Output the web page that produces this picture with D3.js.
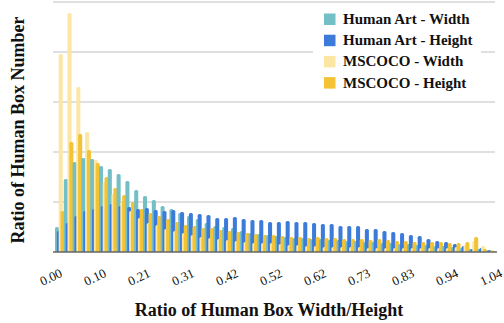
<!DOCTYPE html>
<html lang="en">
<head>
<meta charset="UTF-8">
<title>Human Box Ratio</title>
<script src="https://d3js.org/d3.v7.min.js"></script>
<style>
    body { margin: 0; background: #fff; }
    svg text { font-family: "Liberation Serif", "Times New Roman", serif; fill: #111; }
</style>
</head>
<body>
<div id="chart"></div>
<script>
// 50 bins of width 0.0208 between 0 and 1.04
const bins = d3.range(50);
const tickBins = [0, 5, 10, 15, 20, 25, 30, 35, 40, 45, 50];
const tickLabels = ["0.00", "0.10", "0.21", "0.31", "0.42", "0.52", "0.62", "0.73", "0.83", "0.94", "1.04"];

const seriesNames = ["Human Art - Width", "Human Art - Height", "MSCOCO - Width", "MSCOCO - Height"];
const seriesColors = ["#72bfc6", "#3d7bdb", "#fbe6a3", "#f3c335"];

const artWidth = [0.025, 0.073, 0.090, 0.094, 0.093, 0.086, 0.083, 0.078, 0.071, 0.062,
    0.056, 0.052, 0.046, 0.043, 0.039, 0.036, 0.033, 0.029, 0.026, 0.025,
    0.024, 0.021, 0.019, 0.018, 0.017, 0.016, 0.015, 0.014, 0.014, 0.013,
    0.013, 0.012, 0.012, 0.011, 0.011, 0.010, 0.010, 0.009, 0.009, 0.008,
    0.008, 0.007, 0.007, 0.006, 0.006, 0.005, 0.004, 0.003, 0.003, 0.002];
const artHeight = [0.021, 0.029, 0.036, 0.041, 0.043, 0.046, 0.048, 0.046, 0.045, 0.043,
    0.044, 0.042, 0.041, 0.042, 0.040, 0.039, 0.038, 0.037, 0.034, 0.034,
    0.035, 0.033, 0.032, 0.032, 0.030, 0.030, 0.031, 0.030, 0.030, 0.029,
    0.028, 0.028, 0.026, 0.026, 0.026, 0.023, 0.023, 0.021, 0.020, 0.019,
    0.017, 0.016, 0.013, 0.011, 0.010, 0.008, 0.006, 0.003, 0.004, 0.002];
const cocoWidth = [0.198, 0.239, 0.165, 0.120, 0.092, 0.070, 0.058, 0.050, 0.041, 0.034,
    0.029, 0.027, 0.023, 0.021, 0.019, 0.017, 0.015, 0.014, 0.013, 0.012,
    0.011, 0.010, 0.009, 0.009, 0.009, 0.008, 0.007, 0.007, 0.006, 0.006,
    0.005, 0.005, 0.005, 0.005, 0.005, 0.004, 0.004, 0.004, 0.004, 0.004,
    0.004, 0.004, 0.004, 0.004, 0.004, 0.005, 0.007, 0.011, 0.006, 0.002];
const cocoHeight = [0.041, 0.110, 0.118, 0.102, 0.089, 0.075, 0.064, 0.057, 0.050, 0.043,
    0.039, 0.036, 0.033, 0.030, 0.027, 0.026, 0.024, 0.024, 0.022, 0.021,
    0.020, 0.019, 0.018, 0.017, 0.017, 0.016, 0.015, 0.015, 0.014, 0.015,
    0.014, 0.014, 0.013, 0.013, 0.013, 0.012, 0.013, 0.012, 0.011, 0.011,
    0.010, 0.010, 0.010, 0.010, 0.009, 0.009, 0.010, 0.015, 0.003, 0.001];
const yTicks = [0, 0.05, 0.10, 0.15, 0.20, 0.25];

const series = [artWidth, artHeight, cocoWidth, cocoHeight];

const width = 504, height = 323;
const plotLeft = 55, plotRight = 495, plotTop = 2, plotBottom = 252;

const svg = d3.select("#chart").append("svg")
    .attr("width", width)
    .attr("height", height);

const x = d3.scaleBand().domain(bins).range([plotLeft, plotRight]).padding(0);
const xEdge = d3.scaleLinear().domain([0, 50]).range([plotLeft, plotRight]);
const y = d3.scaleLinear().domain([0, 0.25]).range([plotBottom, plotTop]);

// gridlines
svg.append("g")
    .selectAll("line")
    .data(yTicks.slice(1))
    .join("line")
    .attr("x1", plotLeft - 2)
    .attr("x2", plotRight)
    .attr("y1", d => y(d))
    .attr("y2", d => y(d))
    .attr("stroke", "#d6d6d6")
    .attr("stroke-width", 1.3);

svg.append("clipPath").attr("id", "plotClip")
    .append("rect")
    .attr("x", 0).attr("y", 0)
    .attr("width", width).attr("height", plotBottom);

// bars: each group draws teal, blue, cream, gold, overlapping a little
const bw = x.bandwidth();
const step = bw * 0.21, barW = bw * 0.46;
const groups = svg.append("g")
    .attr("clip-path", "url(#plotClip)")
    .selectAll("g")
    .data(bins)
    .join("g")
    .attr("transform", d => `translate(${x(d)},0)`);

groups.selectAll("rect")
    .data(b => series.map((s, i) => ({ i: i, v: s[b] })))
    .join("rect")
    .attr("x", d => d.i * step)
    .attr("y", d => y(d.v))
    .attr("width", barW)
    .attr("height", d => plotBottom - y(d.v) + 3)
    .attr("rx", 1.6)
    .attr("fill", d => seriesColors[d.i]);

// baseline
svg.append("line")
    .attr("x1", plotLeft - 2)
    .attr("x2", plotRight + 2)
    .attr("y1", plotBottom)
    .attr("y2", plotBottom)
    .attr("stroke", "#666")
    .attr("stroke-width", 1.5);

// x tick labels
svg.append("g")
    .selectAll("text")
    .data(tickBins)
    .join("text")
    .attr("transform", d => `translate(${xEdge(d) - 4},277) rotate(-25)`)
    .attr("text-anchor", "middle")
    .attr("dominant-baseline", "central")
    .style("font-size", "13px")
    .text((d, i) => tickLabels[i]);

// axis titles
svg.append("text")
    .attr("x", 269)
    .attr("y", 316)
    .attr("text-anchor", "middle")
    .style("font-size", "18px")
    .style("font-weight", "bold")
    .text("Ratio of Human Box Width/Height");

svg.append("text")
    .attr("transform", "translate(24,130) rotate(-90)")
    .attr("text-anchor", "middle")
    .style("font-size", "18px")
    .style("font-weight", "bold")
    .text("Ratio of Human Box Number");

// legend
const legend = svg.append("g");
legend.append("rect")
    .attr("x", 313)
    .attr("y", 6)
    .attr("width", 168)
    .attr("height", 92)
    .attr("fill", "#fff");

const rows = legend.selectAll("g.row")
    .data(seriesNames)
    .join("g")
    .attr("class", "row")
    .attr("transform", (d, i) => `translate(324,${19 + i * 21.2})`);

rows.append("rect")
    .attr("x", 0)
    .attr("y", -5.5)
    .attr("width", 11.5)
    .attr("height", 11.5)
    .attr("fill", (d, i) => seriesColors[i]);

rows.append("text")
    .attr("x", 19)
    .attr("y", 5)
    .style("font-size", "15px")
    .style("font-weight", "bold")
    .text(d => d);
</script>
</body>
</html>
